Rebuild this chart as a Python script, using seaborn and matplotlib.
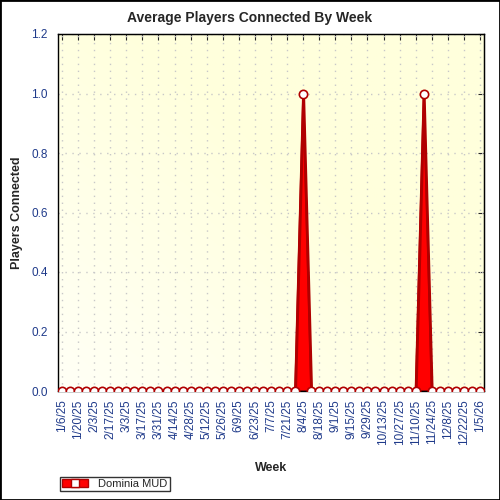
import numpy as np
import pandas as pd
import seaborn as sns
import matplotlib.pyplot as plt
from matplotlib.patches import Rectangle, Patch
from matplotlib.lines import Line2D
from matplotlib.colors import LinearSegmentedColormap

# weekly data, 1/6/25 .. 1/5/26
weeks = pd.date_range("2025-01-06", "2026-01-05", freq="7D")
week_labels = [f"{d.month}/{d.day}/{d.strftime('%y')}" for d in weeks]
players = [0, 0, 0, 0, 0, 0, 0, 0, 0, 0,
           0, 0, 0, 0, 0, 0, 0, 0, 0, 0,
           0, 0, 0, 0, 0, 0, 0, 0, 0, 0,
           1.0, 0, 0, 0, 0, 0, 0, 0, 0, 0,
           0, 0, 0, 0, 0, 1.0, 0, 0, 0, 0,
           0, 0, 0]
series_name = "Dominia MUD"

df = pd.DataFrame({"week": np.arange(len(players)), "players": players})

sns.set_style("white")
plt.rcParams['font.family'] = ['Liberation Sans', 'DejaVu Sans']

fig = plt.figure(figsize=(5, 5), dpi=100)
ax = fig.add_axes([0.116, 0.218, 0.852, 0.714])

# yellow gradient background
cmap = LinearSegmentedColormap.from_list("bg", ["#fffff6", "#ffffdc"])
gx, gy = np.meshgrid(np.linspace(0, 1, 200), np.linspace(0, 1, 200))
grad = np.clip((gx + (1 - gy)) / 1.2, 0, 1)
ax.imshow(grad, cmap=cmap, extent=[0, 1, 0, 1], transform=ax.transAxes,
          aspect="auto", zorder=0, origin="upper")

ax.fill_between(df.week, df.players, color="#ff0000", edgecolor="#b00000",
                linewidth=2, zorder=2)
sns.lineplot(data=df, x="week", y="players", ax=ax, color="#b00000",
             linewidth=1.5, marker="o", markersize=6, markerfacecolor="white",
             markeredgecolor="#b00000", markeredgewidth=1.2, zorder=3)
for c in ax.lines:
    c.set_clip_path(ax.patch)

ax.set_xlim(-0.5, len(players) - 0.5)
ax.set_ylim(0, 1.2)

ax.set_xticks(df.week[::2])
ax.set_xticklabels(week_labels[::2], rotation=90)
ax.set_xticks(df.week, minor=True)
ax.set_yticks(np.arange(0, 1.21, 0.2))
ax.set_yticklabels([f"{v:.1f}" for v in np.arange(0, 1.21, 0.2)])
ax.set_yticks(np.arange(0, 1.21, 0.05), minor=True)

ax.tick_params(axis="both", which="major", direction="inout", length=8,
               width=1, labelsize=8.5, labelcolor="#1f3a8a", color="black")
ax.tick_params(axis="both", which="minor", direction="inout", length=5,
               width=1, color="black")
ax.tick_params(axis="x", which="major", pad=2)

secx = ax.secondary_xaxis("top")
secx.set_xticks(df.week[::2])
secx.tick_params(direction="in", length=4, labeltop=False)
secy = ax.secondary_yaxis("right")
secy.set_yticks(np.arange(0, 1.21, 0.2))
secy.tick_params(direction="in", length=4, labelright=False)

ax.grid(True, which="major", color="#c8c8c8", linestyle=(0, (1, 4)), linewidth=1)
ax.set_axisbelow(True)
for s in ax.spines.values():
    s.set_color("black")
    s.set_linewidth(1)

fig.text(0.5, 0.964, "Average Players Connected By Week", fontsize=10,
         fontweight="bold", ha="center", va="center")
ax.set_xlabel("Week", fontsize=9, fontweight="bold", labelpad=12)
ax.set_ylabel("")
fig.text(0.034, 0.575, "Players Connected", fontsize=9, fontweight="bold",
         rotation=90, ha="center", va="center")

handle = (Patch(facecolor="#ff0000", edgecolor="#b00000"),
          Line2D([], [], color="#b00000", marker="s", markersize=6,
                 markerfacecolor="white", markeredgecolor="#b00000", linestyle="None"))
leg = fig.legend([handle], [series_name], loc="lower left",
                 bbox_to_anchor=(0.108, 0.006), fontsize=8, frameon=True,
                 fancybox=False, handlelength=2.4, borderpad=0.2,
                 handletextpad=0.9)
leg.get_frame().set_edgecolor("black")
leg.get_frame().set_linewidth(1)

fig.patches.append(Rectangle((0, 0), 1, 1, transform=fig.transFigure,
                             fill=False, edgecolor="black", linewidth=2))

fig.savefig("out.png", dpi=100, facecolor="white")
